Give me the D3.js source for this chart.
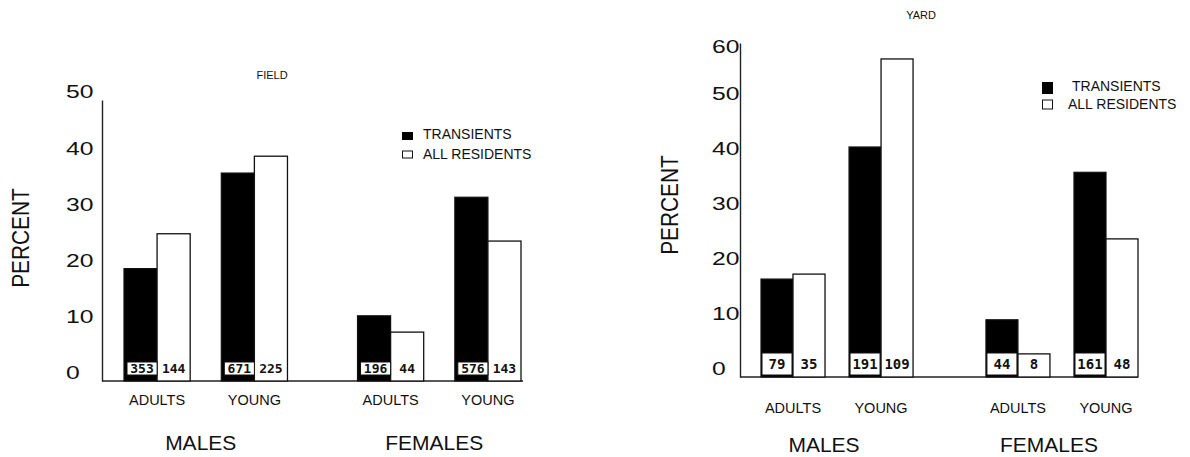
<!DOCTYPE html>
<html>
<head>
<meta charset="utf-8">
<script src="https://cdn.jsdelivr.net/npm/d3@7"></script>
<style>
  body { margin: 0; background: #fff; }
  svg { display: block; }
  text { font-family: "Liberation Sans", Arial, Helvetica, sans-serif; fill: #111; }
  .count { font-family: "DejaVu Sans Mono", monospace; font-weight: bold; }
</style>
</head>
<body>
<svg id="chart" width="1190" height="457"></svg>
<script>
// Categories
const sexes = ["MALES", "FEMALES"];
const ages = ["ADULTS", "YOUNG"];
const seriesNames = ["TRANSIENTS", "ALL RESIDENTS"];

// FIELD: percent per group, order MALES-ADULTS, MALES-YOUNG, FEMALES-ADULTS, FEMALES-YOUNG
const fieldTransients = [20.0, 37.0, 11.6, 32.7];
const fieldResidents  = [26.2, 40.0, 8.7, 24.9];
const fieldTransientN = [353, 671, 196, 576];
const fieldResidentN  = [144, 225, 44, 143];
const fieldTicks = [0, 10, 20, 30, 40, 50];

// YARD: same group order
const yardTransients = [17.8, 41.8, 10.4, 37.2];
const yardResidents  = [18.7, 57.8, 4.2, 25.1];
const yardTransientN = [79, 191, 44, 161];
const yardResidentN  = [35, 109, 8, 48];
const yardTicks = [0, 10, 20, 30, 40, 50, 60];

const svg = d3.select("#chart");

// Layout of the two panels
const panels = [
  {
    title: "FIELD", titleX: 272, titleY: 79,
    transients: fieldTransients, residents: fieldResidents,
    tN: fieldTransientN, rN: fieldResidentN, ticks: fieldTicks,
    yMax: 50, yBase: 381, yTop: 100,
    axisX: 102, tickX: 66, lineEnd: 523, topLabelDrop: 0,
    xRange: [124, 521], sexPad: 0.30, agePad: 0.32,
    boxH: 13, boxLift: 6, boxInsetL: 3, boxInsetR: 0, countSize: 13,
    percentX: 20, percentY: 238,
    ageY: 405, sexY: 450, sexShift: -5,
    legend: { x: 402, x2: 423, x3: 423, y1: 134, y2: 154, sq1: [11, 8], sq2: [11, 8] }
  },
  {
    title: "YARD", titleX: 921, titleY: 19,
    transients: yardTransients, residents: yardResidents,
    tN: yardTransientN, rN: yardResidentN, ticks: yardTicks,
    yMax: 60.7, yBase: 377, yTop: 43,
    axisX: 740, tickX: 712, lineEnd: 1138, topLabelDrop: 8,
    xRange: [761, 1138], sexPad: 0.324, agePad: 0.273,
    boxH: 22, boxLift: 2, boxInsetL: 1, boxInsetR: 1, countSize: 14,
    percentX: 669, percentY: 205,
    ageY: 413, sexY: 452, sexShift: -13,
    legend: { x: 1042, x2: 1072, x3: 1068, y1: 86, y2: 104, sq1: [11, 12], sq2: [11, 10] }
  }
];

panels.forEach(p => {
  const g = svg.append("g");

  const y = d3.scaleLinear().domain([0, p.yMax]).range([p.yBase, p.yTop]);
  const xSex = d3.scaleBand().domain(sexes).range(p.xRange).paddingInner(p.sexPad).paddingOuter(0);
  const xAge = d3.scaleBand().domain(ages).range([0, xSex.bandwidth()]).paddingInner(p.agePad).paddingOuter(0);
  const xSer = d3.scaleBand().domain(seriesNames).range([0, xAge.bandwidth()]).padding(0);

  // Group records
  const groups = [];
  sexes.forEach((s, si) => ages.forEach((a, ai) => {
    const i = si * 2 + ai;
    groups.push({ sex: s, age: a, t: p.transients[i], r: p.residents[i], tN: p.tN[i], rN: p.rN[i],
                  x0: xSex(s) + xAge(a) });
  }));

  // Baseline
  g.append("line")
    .attr("x1", p.axisX).attr("x2", p.lineEnd)
    .attr("y1", y(0)).attr("y2", y(0))
    .attr("stroke", "#222").attr("stroke-width", 1.4);

  // Vertical axis; labels sit just above their value, the top one tucked under the axis end
  const lastTick = p.ticks[p.ticks.length - 1];
  const axis = d3.axisLeft(y).tickValues(p.ticks).tickSize(0).tickSizeOuter(0).tickFormat(d3.format("d"));
  const ag = g.append("g").attr("transform", `translate(${p.axisX},0)`).call(axis);
  ag.select(".domain").attr("stroke", "#222").attr("stroke-width", 1.4);
  ag.selectAll(".tick text")
    .attr("x", 0).attr("dy", "0.36em")
    .attr("text-anchor", "start")
    .attr("transform", d => `translate(${p.tickX - p.axisX},${-9 + (d === lastTick ? p.topLabelDrop : 0)}) scale(1.3,1)`)
    .style("font-family", "'Liberation Sans', Arial, sans-serif")
    .style("font-size", "19px").attr("fill", "#111");

  // Bars
  const bars = g.append("g");
  groups.forEach(d => {
    const bw = xSer.bandwidth();
    const xt = d.x0 + xSer("TRANSIENTS");
    const xr = d.x0 + xSer("ALL RESIDENTS");
    bars.append("rect")
      .attr("x", xt).attr("y", y(d.t)).attr("width", bw).attr("height", y(0) - y(d.t))
      .attr("fill", "#000").attr("stroke", "#111").attr("stroke-width", 1.2);
    bars.append("rect")
      .attr("x", xr).attr("y", y(d.r)).attr("width", bw).attr("height", y(0) - y(d.r))
      .attr("fill", "#fff").attr("stroke", "#111").attr("stroke-width", 1.3);

    // Sample-size box inside the transient bar
    const by = y(0) - p.boxLift - p.boxH;
    bars.append("rect")
      .attr("x", xt + p.boxInsetL).attr("y", by)
      .attr("width", bw - p.boxInsetL - p.boxInsetR).attr("height", p.boxH)
      .attr("fill", "#fff").attr("stroke", "#111").attr("stroke-width", 1);
    bars.append("text").attr("class", "count")
      .attr("x", xt + p.boxInsetL + (bw - p.boxInsetL - p.boxInsetR) / 2)
      .attr("y", by + p.boxH / 2).attr("dy", "0.36em")
      .attr("text-anchor", "middle").style("font-size", p.countSize + "px")
      .text(d.tN);
    bars.append("text").attr("class", "count")
      .attr("x", xr + bw / 2)
      .attr("y", by + p.boxH / 2).attr("dy", "0.36em")
      .attr("text-anchor", "middle").style("font-size", p.countSize + "px")
      .text(d.rN);

    // Age label
    g.append("text")
      .attr("x", d.x0 + xAge.bandwidth() / 2).attr("y", p.ageY)
      .attr("text-anchor", "middle").style("font-size", "14.5px")
      .text(d.age);
  });

  // Sex labels
  sexes.forEach(s => {
    g.append("text")
      .attr("x", xSex(s) + xSex.bandwidth() / 2 + p.sexShift).attr("y", p.sexY)
      .attr("text-anchor", "middle").style("font-size", "21px")
      .text(s);
  });

  // Y title
  g.append("text")
    .attr("transform", `translate(${p.percentX},${p.percentY}) rotate(-90) scale(0.87,1)`)
    .attr("text-anchor", "middle").attr("dy", "0.36em")
    .style("font-size", "24px")
    .text("PERCENT");

  // Panel title
  g.append("text")
    .attr("x", p.titleX).attr("y", p.titleY)
    .attr("text-anchor", "middle").style("font-size", "11px")
    .text(p.title);

  // Legend
  const L = p.legend;
  g.append("rect").attr("x", L.x).attr("y", L.y1 - L.sq1[1] / 2 + 2)
    .attr("width", L.sq1[0]).attr("height", L.sq1[1]).attr("fill", "#000");
  g.append("rect").attr("x", L.x + 0.5).attr("y", L.y2 - L.sq2[1] / 2 + 1)
    .attr("width", L.sq2[0] - 1).attr("height", L.sq2[1] - 1)
    .attr("fill", "#fff").attr("stroke", "#111").attr("stroke-width", 1);
  g.append("text").attr("x", L.x2).attr("y", L.y1).attr("dy", "0.36em")
    .style("font-size", "14px").text(seriesNames[0]);
  g.append("text").attr("x", L.x3).attr("y", L.y2).attr("dy", "0.36em")
    .style("font-size", "14px").text(seriesNames[1]);
});
</script>
</body>
</html>
